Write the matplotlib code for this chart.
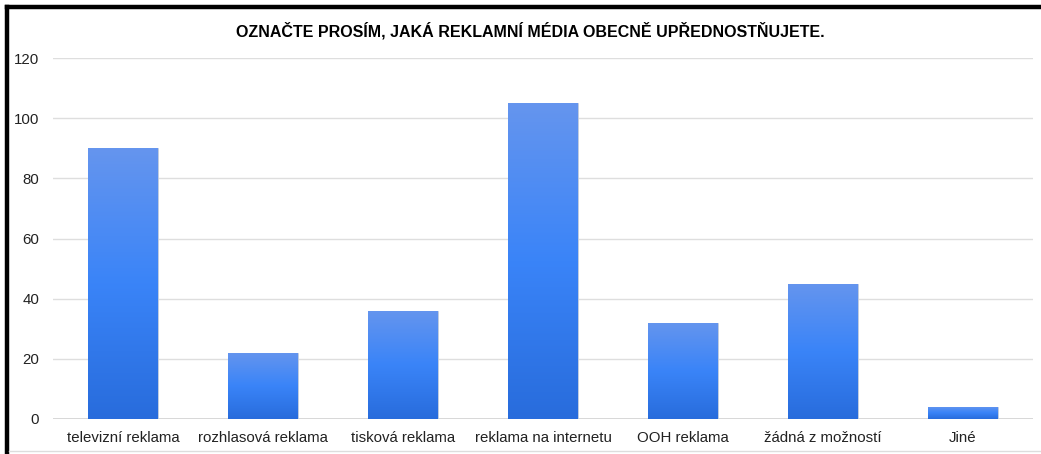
import matplotlib
matplotlib.use('Agg')
import matplotlib.pyplot as plt
import numpy as np
from matplotlib.colors import LinearSegmentedColormap

plt.rcParams['font.family'] = ['Liberation Sans', 'DejaVu Sans']

categories = ['televizní reklama', 'rozhlasová reklama', 'tisková reklama',
              'reklama na internetu', 'OOH reklama', 'žádná z možností', 'Jiné']
values = [90, 22, 36, 105, 32, 45, 4]
yticks = [0, 20, 40, 60, 80, 100, 120]
title = 'OZNAČTE PROSÍM, JAKÁ REKLAMNÍ MÉDIA OBECNĚ UPŘEDNOSTŇUJETE.'

W, H = 1041, 454
fig = plt.figure(figsize=(W / 100, H / 100), dpi=100)
ax = fig.add_axes([53 / W, 1 - 419 / H, (1033 - 53) / W, (419 - 58) / H])

x = np.arange(len(categories))
bars = ax.bar(x, values, width=0.5, color='#3a82f5', edgecolor='#c8cfdc',
              linewidth=0.6, zorder=3)

# vertical gradient: lighter top, darker bottom
cmap = LinearSegmentedColormap.from_list(
    'g', ['#286cdc', '#3a84f8', '#6595ee'])
grad = np.linspace(0, 1, 256).reshape(-1, 1)
for b in bars:
    bx, by = b.get_x(), b.get_y()
    bw, bh = b.get_width(), b.get_height()
    im = ax.imshow(grad, cmap=cmap, origin='lower', aspect='auto',
                   extent=[bx, bx + bw, by, by + bh], zorder=3.5)
    im.set_clip_path(b)

ax.set_xlim(-0.5, len(categories) - 0.5)
ax.set_ylim(0, 120)
ax.set_yticks(yticks)
ax.set_xticks(x)
ax.set_xticklabels(categories)
ax.grid(axis='y', color='#dedede', linewidth=1.0, zorder=0)
ax.tick_params(length=0, labelsize=10.8, colors='#222222')
ax.tick_params(axis='y', pad=10)
ax.tick_params(axis='x', pad=9)
for s in ax.spines.values():
    s.set_visible(False)
ax.axhline(0, color='#d0d0d0', linewidth=1.2, zorder=1)

fig.text(530 / W, 1 - 31 / H, title, ha='center', va='center',
         fontsize=11.5, fontweight='bold',
         family=['Liberation Sans Narrow', 'Liberation Sans', 'DejaVu Sans'])

# frame: thick black on top and left, light line at bottom
fig.add_artist(plt.Line2D([7 / W, 1], [1 - 7 / H, 1 - 7 / H], color='black',
                          linewidth=3.2, transform=fig.transFigure))
fig.add_artist(plt.Line2D([7 / W, 7 / W], [0, 1 - 7 / H], color='black',
                          linewidth=3.2, transform=fig.transFigure))
fig.add_artist(plt.Line2D([9 / W, 1], [1 - 451 / H, 1 - 451 / H],
                          color='#dddddd', linewidth=1.0,
                          transform=fig.transFigure))

fig.savefig('out.png', dpi=100)
